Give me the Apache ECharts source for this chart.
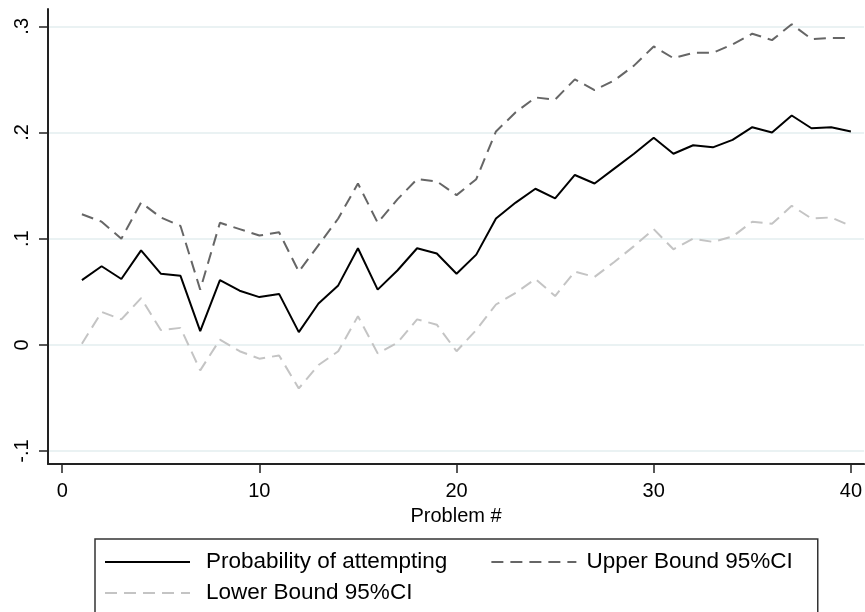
<!DOCTYPE html>
<html>
<head>
<meta charset="utf-8">
<script src="https://cdn.jsdelivr.net/npm/echarts@6/dist/echarts.min.js"></script>
<style>
  html, body { margin: 0; padding: 0; background: #ffffff; }
  #chart { width: 865px; height: 612px; }
</style>
</head>
<body>
<div id="chart"></div>
<script>
// Problem numbers along the x axis
const problems = [1, 2, 3, 4, 5, 6, 7, 8, 9, 10,
                  11, 12, 13, 14, 15, 16, 17, 18, 19, 20,
                  21, 22, 23, 24, 25, 26, 27, 28, 29, 30,
                  31, 32, 33, 34, 35, 36, 37, 38, 39, 40];

// Estimated probability of attempting each problem
const probAttempt = [0.061, 0.074, 0.062, 0.089, 0.067, 0.065, 0.013, 0.061, 0.051, 0.045,
                     0.048, 0.012, 0.039, 0.056, 0.091, 0.052, 0.070, 0.091, 0.086, 0.067,
                     0.085, 0.119, 0.134, 0.147, 0.138, 0.160, 0.152, 0.166, 0.180, 0.195,
                     0.180, 0.188, 0.186, 0.193, 0.205, 0.200, 0.216, 0.204, 0.205, 0.201];

// Upper bound of the 95% confidence interval
const upperCI = [0.123, 0.116, 0.100, 0.134, 0.120, 0.112, 0.052, 0.115, 0.109, 0.103,
                 0.106, 0.069, 0.094, 0.119, 0.152, 0.115, 0.137, 0.156, 0.154, 0.141,
                 0.156, 0.201, 0.219, 0.233, 0.231, 0.250, 0.240, 0.249, 0.263, 0.281,
                 0.270, 0.275, 0.275, 0.283, 0.293, 0.287, 0.302, 0.288, 0.289, 0.289];

// Lower bound of the 95% confidence interval
const lowerCI = [0.001, 0.031, 0.024, 0.044, 0.014, 0.016, -0.024, 0.005, -0.006, -0.013,
                 -0.010, -0.041, -0.019, -0.006, 0.027, -0.008, 0.002, 0.024, 0.019, -0.006,
                 0.014, 0.038, 0.049, 0.062, 0.046, 0.069, 0.064, 0.078, 0.093, 0.109,
                 0.090, 0.100, 0.097, 0.102, 0.116, 0.114, 0.131, 0.119, 0.120, 0.112];

// Axis ticks and their printed labels
const xTicks = [0, 10, 20, 30, 40];
const yTicks = [-0.1, 0, 0.1, 0.2, 0.3];
const yTickLabels = ['-.1', '0', '.1', '.2', '.3'];

const seriesNames = ['Probability of attempting', 'Upper Bound 95%CI', 'Lower Bound 95%CI'];

const pairs = (ys) => problems.map((p, i) => [p, ys[i]]);

const FONT = '"Liberation Sans", Arial, Helvetica, sans-serif';

const chart = echarts.init(document.getElementById('chart'), null, { renderer: 'canvas' });

const lineSeries = (name, values, color, dashed) => ({
  name: name,
  type: 'line',
  data: pairs(values),
  symbol: 'none',
  smooth: false,
  lineStyle: {
    color: color,
    width: 2,
    type: dashed ? [12, 7] : 'solid'
  },
  itemStyle: { color: color },
  emphasis: { disabled: true }
});

chart.setOption({
  animation: false,
  backgroundColor: '#ffffff',
  grid: { left: 48, right: 0, top: 9, bottom: 148, containLabel: false },
  xAxis: {
    type: 'value',
    min: -0.72,
    max: 40.67,
    name: 'Problem #',
    nameLocation: 'middle',
    nameGap: 42,
    nameTextStyle: { fontFamily: FONT, fontSize: 20, color: '#000' },
    axisLine: { show: true, onZero: false, lineStyle: { color: '#222', width: 2 } },
    axisTick: { show: true, length: 9, inside: false, customValues: xTicks,
                lineStyle: { color: '#222', width: 1.5 } },
    axisLabel: { customValues: xTicks, margin: 17, fontFamily: FONT, fontSize: 20, color: '#000' },
    splitLine: { show: false }
  },
  yAxis: {
    type: 'value',
    min: -0.1122,
    max: 0.3163,
    axisLine: { show: true, onZero: false, lineStyle: { color: '#222', width: 2 } },
    axisTick: { show: true, length: 9, inside: false, customValues: yTicks,
                lineStyle: { color: '#222', width: 1.5 } },
    axisLabel: {
      customValues: yTicks,
      rotate: 90,
      margin: 16,
      fontFamily: FONT,
      fontSize: 20,
      color: '#000',
      formatter: (v) => {
        const idx = yTicks.findIndex(t => Math.abs(t - v) < 1e-9);
        return idx >= 0 ? yTickLabels[idx] : '';
      }
    },
    splitLine: { show: true, lineStyle: { color: '#eaf2f3', width: 2 } }
  },
  legend: {
    show: true,
    orient: 'horizontal',
    left: 95,
    top: 539,
    width: 709,
    padding: [10, 25, 20, 9],
    itemGap: 5,
    itemWidth: 85,
    itemHeight: 26,
    borderColor: '#333',
    borderWidth: 1.5,
    backgroundColor: '#ffffff',
    selectedMode: false,
    itemStyle: { opacity: 0 },
    textStyle: { fontFamily: FONT, fontSize: 22.5, color: '#000', lineHeight: 26,
                 padding: [0, 0, 0, 11] },
    data: [
      { name: seriesNames[0], textStyle: { padding: [0, 38, 0, 11] } },
      { name: seriesNames[1], textStyle: { padding: [0, 0, 0, 5] } },
      { name: seriesNames[2] }
    ]
  },
  series: [
    lineSeries(seriesNames[0], probAttempt, '#000000', false),
    lineSeries(seriesNames[1], upperCI, '#666666', true),
    lineSeries(seriesNames[2], lowerCI, '#c4c4c4', true)
  ]
});
</script>
</body>
</html>
